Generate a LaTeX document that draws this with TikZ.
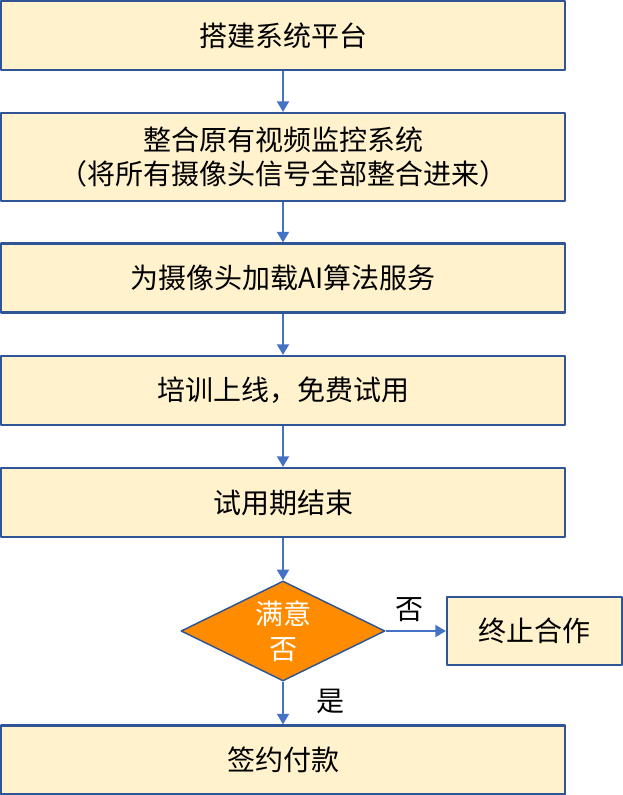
\documentclass[tikz,border=0pt]{standalone}
\usepackage{fontspec}
\newfontfamily\cjk{Noto Sans CJK SC}
\usetikzlibrary{shapes.geometric,arrows.meta}
\definecolor{boxfill}{HTML}{FFF2CC}
\definecolor{boxline}{HTML}{2F5597}
\definecolor{arrowblue}{HTML}{4472C4}
\definecolor{askfill}{HTML}{FF8C00}
\begin{document}
\begin{tikzpicture}[x=0.75pt,y=-0.75pt,font=\cjk\fontsize{21}{26}\selectfont,line join=round,
stepbox/.style={draw=boxline,fill=boxfill,line width=1.6pt,minimum width=423pt,minimum height=51.75pt,inner sep=0pt,align=center},
flow/.style={draw=arrowblue,line width=1.6pt,-{Triangle[width=9pt,length=8pt]}}]
\useasboundingbox (0,0) rectangle (623,795);
% main column
\node[stepbox] (build) at (283,35.5) {搭建系统平台};
\node[stepbox,minimum height=66pt] (merge) at (283,157) {整合原有视频监控系统\\（将所有摄像头信号全部整合进来）};
\node[stepbox] (algo) at (283,278) {为摄像头加载AI算法服务};
\node[stepbox] (train) at (283,390.5) {培训上线，免费试用};
\node[stepbox] (trial) at (283,502.5) {试用期结束};
\node[diamond,draw=boxline,fill=askfill,line width=1.1pt,minimum width=153pt,minimum height=75pt,
  inner sep=0pt,aspect=2,text=white,align=center] (ask) at (283,631) {满意\\否};
\node[stepbox,minimum width=131.25pt,minimum height=51pt] (stop) at (534.5,631) {终止合作};
\node[stepbox] (sign) at (283,760) {签约付款};
\node (no) at (409,610) {否};
\node (yes) at (330,701) {是};
% arrows
\draw[flow] (build)--(merge);
\draw[flow] (merge)--(algo);
\draw[flow] (algo)--(train);
\draw[flow] (train)--(trial);
\draw[flow] (trial)--(ask);
\draw[flow] (ask)--(stop);
\draw[flow] (ask)--(sign);
\end{tikzpicture}
\end{document}
